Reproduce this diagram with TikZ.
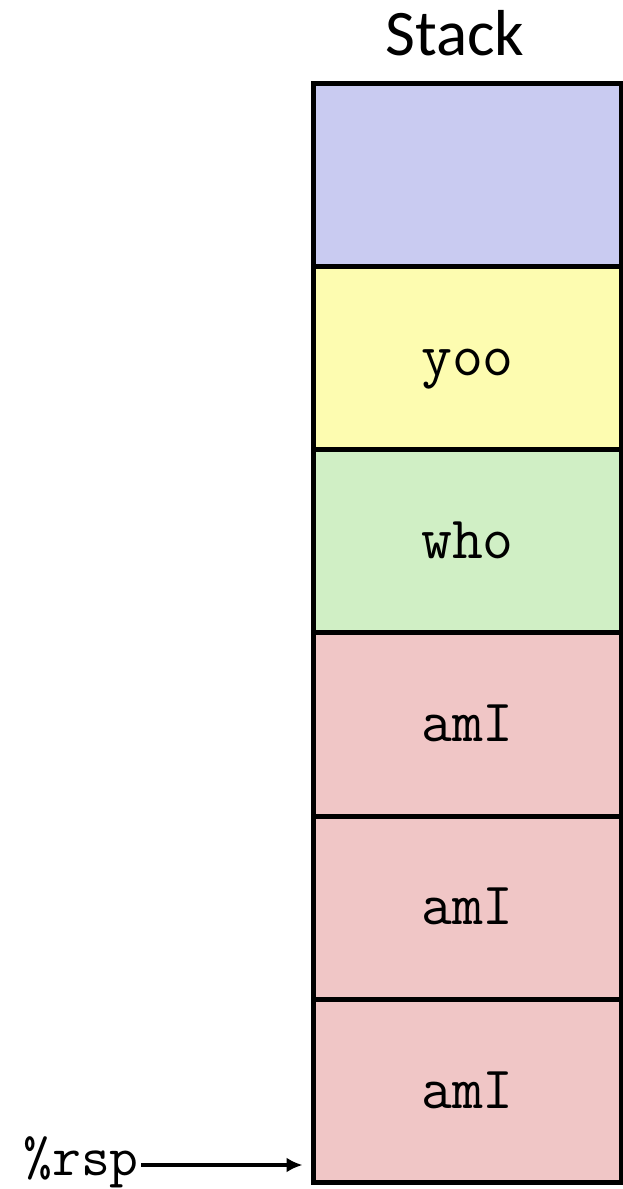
\documentclass[tikz,border=0pt]{standalone}
\usepackage{fontspec}
\setmainfont{Carlito}
\usetikzlibrary{arrows.meta,positioning}
\definecolor{slotblue}{RGB}{201,203,241}
\definecolor{slotyellow}{RGB}{253,252,176}
\definecolor{slotgreen}{RGB}{208,239,197}
\definecolor{slotpink}{RGB}{240,198,198}

\begin{document}
\begin{tikzpicture}[
  x=1pt,y=1pt,
  node distance=0pt,
  slot/.style={draw,line width=5pt,minimum width=308pt,minimum height=183.33pt,
    outer sep=0pt,inner sep=0pt,text height=34pt,text depth=0pt,
    font=\fontsize{60}{60}\ttfamily},
  arr/.style={-{Latex[length=16pt,width=15pt]},line width=4pt}
]
\useasboundingbox (0,0) rectangle (623,-1189);
\node[slot,fill=slotblue,anchor=north west] (frame) at (313.5,-83) {};
\node[slot,fill=slotyellow,below=of frame] (yoo) {yoo};
\node[slot,fill=slotgreen,below=of yoo] (who) {who};
\node[slot,fill=slotpink,below=of who] (amIa) {amI};
\node[slot,fill=slotpink,below=of amIa] (amIb) {amI};
\node[slot,fill=slotpink,below=of amIb] (amIc) {amI};
\node[font=\fontsize{65}{65}\selectfont,anchor=base] (title) at (455,-55) {Stack};
\node[font=\fontsize{56}{56}\ttfamily,anchor=base east,inner sep=2pt] (rsp) at (141,-1175) {\%rsp};
\coordinate (tip) at ([xshift=-11pt]amIc.west |- 0,-1165);
\draw[arr] (rsp.east |- tip) -- (tip);
\end{tikzpicture}
\end{document}
